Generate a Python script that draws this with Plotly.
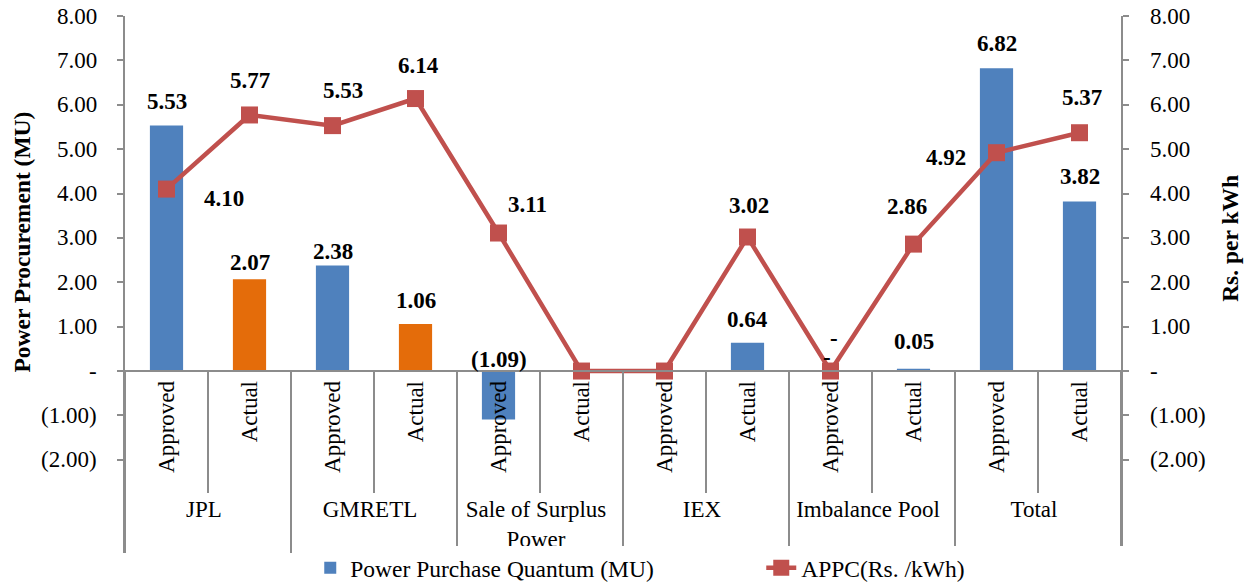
import plotly.graph_objects as go

# ---------------- data ----------------
groups = ["JPL", "JPL", "GMRETL", "GMRETL",
          "Sale of Surplus<br>Power", "Sale of Surplus<br>Power",
          "IEX", "IEX", "Imbalance Pool", "Imbalance Pool", "Total", "Total"]
kinds = ["Approved", "Actual"] * 6
quantum = [5.53, 2.07, 2.38, 1.06, -1.09, 0, 0, 0.64, 0, 0.05, 6.82, 3.82]
appc = [4.10, 5.77, 5.53, 6.14, 3.11, 0, 0, 3.02, 0, 2.86, 4.92, 5.37]
quantum_labels = ["5.53", "2.07", "2.38", "1.06", "(1.09)", "", "", "0.64", "-", "0.05", "6.82", "3.82"]
appc_labels = ["4.10", "5.77", "5.53", "6.14", "3.11", "", "", "3.02", "-", "2.86", "4.92", "5.37"]
y_ticks = [-2, -1, 0, 1, 2, 3, 4, 5, 6, 7, 8]
y_ticktext = ["(2.00)", "(1.00)", "-", "1.00", "2.00", "3.00", "4.00", "5.00", "6.00", "7.00", "8.00"]

# ---------------- style ----------------
BLUE = "#4F81BD"
ORANGE = "#E46C0A"
RED = "#C0504D"
GRAY = "#8C8C8C"
FONT = "Liberation Serif, Times New Roman, serif"
FS = 23
bar_colors = [BLUE, ORANGE, BLUE, ORANGE, BLUE, BLUE, BLUE, BLUE, BLUE, BLUE, BLUE, BLUE]
# label pixel offsets (dx, dy) relative to the bar top / marker
bar_off = [(0, 24), (0, 17), (0, 14), (0, 24), (0, 12), (0, 0), (0, 0), (0, 23), (-4, 14), (0, 27), (0, 25), (0, 25)]
line_off = [(57, -9), (0, 34), (10, 35), (3, 33), (29, 29), (0, 0), (0, 0), (1, 32), (3, 33), (-7, 38), (-51, -5), (2, 35)]

YMIN, YMAX = -4.1, 8.0
PLOT_W = 996  # px width of plot area

fig = go.Figure()
fig.add_trace(go.Bar(
    x=[groups, kinds], y=quantum, name="Power Purchase Quantum (MU)",
    marker=dict(color=bar_colors, line=dict(width=0)), width=0.4,
    yaxis="y",
))
fig.add_trace(go.Scatter(
    x=[groups, kinds], y=appc, name="APPC(Rs. /kWh)", mode="lines+markers",
    line=dict(color=RED, width=4.5), marker=dict(symbol="square", size=17, color=RED),
    yaxis="y2",
))

annotations = []
txtfont = dict(family=FONT, size=FS, color="black")
for i, (v, t) in enumerate(zip(quantum, quantum_labels)):
    if not t:
        continue
    dx, dy = bar_off[i]
    base = max(v, 0)
    annotations.append(dict(x=i, y=base, xref="x", yref="y", text="<b>%s</b>" % t,
                            showarrow=False, xshift=dx, yshift=dy, font=txtfont))
for i, (v, t) in enumerate(zip(appc, appc_labels)):
    if not t:
        continue
    dx, dy = line_off[i]
    annotations.append(dict(x=i, y=v, xref="x", yref="y2", text="<b>%s</b>" % t,
                            showarrow=False, xshift=dx, yshift=dy, font=txtfont))
# y tick labels (placed with a gap from the axis lines, as in the original)
for v, t in zip(y_ticks, y_ticktext):
    annotations.append(dict(x=-26 / PLOT_W, y=v, xref="paper", yref="y", text=t,
                            xanchor="right", yanchor="middle", showarrow=False, font=txtfont))
    annotations.append(dict(x=1 + 27 / PLOT_W, y=v, xref="paper", yref="y2", text=t,
                            xanchor="left", yanchor="middle", showarrow=False, font=txtfont))
# axis titles
annotations.append(dict(x=-103 / PLOT_W, y=0.578, xref="paper", yref="paper",
                        xanchor="center", yanchor="middle",
                        text="<b>Power Procurement (MU)</b>", textangle=-90, showarrow=False,
                        font=dict(family=FONT, size=23.5, color="black")))
annotations.append(dict(x=1 + 109 / PLOT_W, y=0.585, xref="paper", yref="paper",
                        xanchor="center", yanchor="middle",
                        text="<b>Rs. per kWh</b>", textangle=-90, showarrow=False,
                        font=dict(family=FONT, size=23.5, color="black")))

fig.update_layout(
    width=1247, height=586,
    margin=dict(l=125, r=126, t=16, b=33, autoexpand=False),
    plot_bgcolor="white", paper_bgcolor="white",
    font=dict(family=FONT, size=FS, color="black"),
    showlegend=True,
    legend=dict(orientation="h", x=0.186, xanchor="left", y=-0.028, yanchor="middle",
                font=dict(family=FONT, size=23.5), entrywidth=406, entrywidthmode="pixels",
                tracegroupgap=0),
    xaxis=dict(type="multicategory", anchor="free", position=(0 - YMIN) / (YMAX - YMIN),
               range=[-0.5, 11.5], automargin=False,
               showline=True, linecolor=GRAY, linewidth=1.5,
               ticks="outside", tickson="boundaries", ticklen=121, tickcolor=GRAY, tickwidth=1.5,
               showdividers=True, dividercolor=GRAY, dividerwidth=1.5,
               tickangle=-90, tickfont=dict(family=FONT, size=FS),
               showgrid=False, zeroline=False),
    yaxis=dict(range=[YMIN, YMAX], tickvals=y_ticks, showticklabels=False, automargin=False,
               showline=True, linecolor=GRAY, linewidth=1.5,
               ticks="outside", ticklen=6, tickcolor=GRAY, tickwidth=1.5,
               showgrid=False, zeroline=False),
    yaxis2=dict(range=[YMIN, YMAX], tickvals=y_ticks, showticklabels=False, automargin=False,
                overlaying="y", side="right",
                showline=True, linecolor=GRAY, linewidth=1.5,
                ticks="outside", ticklen=6, tickcolor=GRAY, tickwidth=1.5,
                showgrid=False, zeroline=False),
    annotations=annotations,
)

fig.write_html("out.html")
